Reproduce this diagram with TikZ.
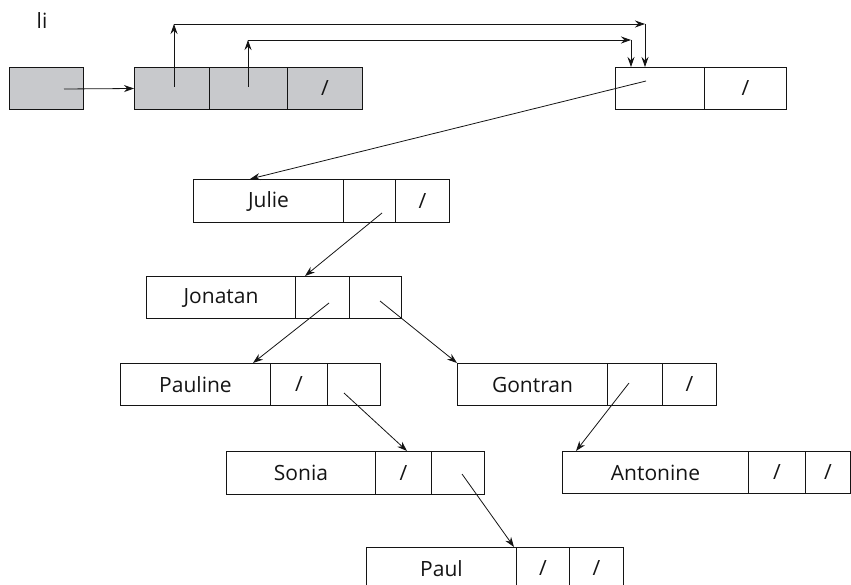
\documentclass[tikz,border=0pt]{standalone}
\usepackage{fontspec}
\setmainfont{Open Sans}
\usetikzlibrary{arrows.meta}
\definecolor{boxgray}{RGB}{200,201,204}
\definecolor{ink}{RGB}{20,20,20}
\tikzset{
  cell/.style={draw=ink, line width=1pt, anchor=north west, inner sep=0pt,
    font=\fontsize{21}{24}\selectfont, text=ink},
  gcell/.style={cell, fill=boxgray},
  arr/.style={draw=ink, line width=0.8pt, -{Stealth[length=10pt,width=7pt]}}
}
\begin{document}
\begin{tikzpicture}[x=1pt,y=-1pt]
\useasboundingbox (0,0) rectangle (851,585);
\node[font=\fontsize{21}{24}\selectfont, text=ink] (lbl) at (42,21) {li};
% li pointer
\node[gcell, minimum width=74pt, minimum height=42pt] (li) at (9,67) {};
% array
\node[gcell, minimum width=75pt, minimum height=42pt] (a1) at (134,67) {};
\node[gcell, minimum width=78pt, minimum height=42pt] (a2) at (209,67) {};
\node[gcell, minimum width=75pt, minimum height=42pt] (a3) at (287,67) {/};
% node B
\node[cell, minimum width=89pt, minimum height=42pt] (b1) at (615,67) {};
\node[cell, minimum width=82pt, minimum height=42pt] (b2) at (704,67) {/};
% Julie
\node[cell, minimum width=150pt, minimum height=43pt] (ju0) at (193,179) {Julie};
\node[cell, minimum width=52pt, minimum height=43pt] (ju1) at (343,179) {};
\node[cell, minimum width=54pt, minimum height=43pt] (ju2) at (395,179) {/};
% Jonatan
\node[cell, minimum width=149pt, minimum height=42pt] (jo0) at (146,276) {Jonatan};
\node[cell, minimum width=54pt, minimum height=42pt] (jo1) at (295,276) {};
\node[cell, minimum width=52pt, minimum height=42pt] (jo2) at (349,276) {};
% Pauline
\node[cell, minimum width=150pt, minimum height=42pt] (pa0) at (120,363) {Pauline};
\node[cell, minimum width=57pt, minimum height=42pt] (pa1) at (270,363) {/};
\node[cell, minimum width=53pt, minimum height=42pt] (pa2) at (327,363) {};
% Gontran
\node[cell, minimum width=150pt, minimum height=42pt] (go0) at (457,363) {Gontran};
\node[cell, minimum width=55pt, minimum height=42pt] (go1) at (607,363) {};
\node[cell, minimum width=54pt, minimum height=42pt] (go2) at (662,363) {/};
% Sonia
\node[cell, minimum width=149pt, minimum height=43pt] (so0) at (226,451) {Sonia};
\node[cell, minimum width=56pt, minimum height=43pt] (so1) at (375,451) {/};
\node[cell, minimum width=53pt, minimum height=43pt] (so2) at (431,451) {};
% Antonine
\node[cell, minimum width=186pt, minimum height=42pt] (an0) at (562,451) {Antonine};
\node[cell, minimum width=57pt, minimum height=42pt] (an1) at (748,451) {/};
\node[cell, minimum width=45pt, minimum height=42pt] (an2) at (805,451) {/};
% Paul
\node[cell, minimum width=150pt, minimum height=42pt] (pu0) at (366,547) {Paul};
\node[cell, minimum width=53pt, minimum height=42pt] (pu1) at (516,547) {/};
\node[cell, minimum width=54pt, minimum height=42pt] (pu2) at (569,547) {/};

% coordinates for pointer starts / corners / ends
\coordinate (sli) at (64,89);
\coordinate (sa1) at (174,87);
\coordinate (ka1) at (174,24);
\coordinate (ma1) at (645,24);
\coordinate (ea1) at (645,67);
\coordinate (sa2) at (248,87);
\coordinate (ka2) at (248,40);
\coordinate (ma2) at (631,40);
\coordinate (ea2) at (631,67);
\coordinate (sb1) at (646,81);
\coordinate (eju) at (250,179);
\coordinate (sju) at (382,213);
\coordinate (ejo) at (305,276);
\coordinate (sjo1) at (329,303);
\coordinate (epa) at (253,363);
\coordinate (sjo2) at (380,301);
\coordinate (spa) at (344,393);
\coordinate (eso) at (407,451);
\coordinate (sgo) at (629,383);
\coordinate (ean) at (576,451);
\coordinate (sso) at (462,474);
\coordinate (epu) at (514,547);

\draw[arr] (sli) -- (a1.west);
\draw[arr] (sa1) -- (ka1);
\draw[arr] (ka1) -- (ma1);
\draw[arr] (ma1) -- (ea1);
\draw[arr] (sa2) -- (ka2);
\draw[arr] (ka2) -- (ma2);
\draw[arr] (ma2) -- (ea2);
\draw[arr] (sb1) -- (eju);
\draw[arr] (sju) -- (ejo);
\draw[arr] (sjo1) -- (epa);
\draw[arr] (sjo2) -- (go0.north west);
\draw[arr] (spa) -- (eso);
\draw[arr] (sgo) -- (ean);
\draw[arr] (sso) -- (epu);
\end{tikzpicture}
\end{document}
